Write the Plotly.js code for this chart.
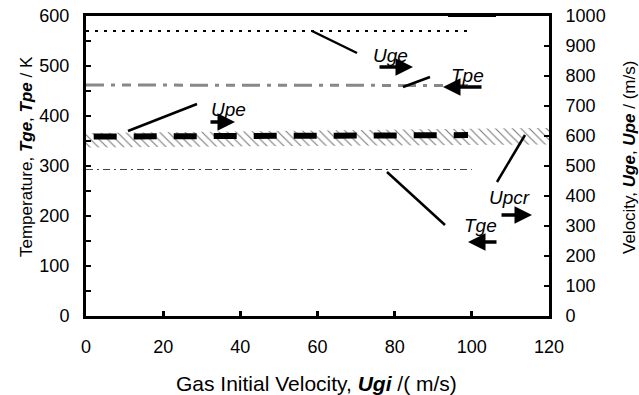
<!DOCTYPE html>
<html><head><meta charset="utf-8">
<script src="https://cdn.plot.ly/plotly-3.0.1.min.js"></script>
<style>body{margin:0;background:#fff}#c{width:639px;height:395px}</style>
</head><body><div id="c"></div>
<script>
// Data
const ugi     = [0, 20, 40, 60, 80, 100];
const ugiUpe  = [2, 20, 40, 60, 80, 99];
const Uge     = [950, 950, 950, 950, 950, 950];      // m/s (right axis)
const Tpe     = [462, 462, 462, 461, 461, 461];      // K (left axis)
const Upe     = [598, 599, 600, 601, 602, 603];      // m/s (right axis)
const Tge     = [293, 293, 293, 293, 293, 293];      // K (left axis)
const ugiCr   = [0, 120];
const UpcrLow = [562, 572];                          // m/s band
const UpcrHigh= [610, 627];
const xTicks  = [0, 20, 40, 60, 80, 100, 120];
const yTicksT = [0, 100, 200, 300, 400, 500, 600];
const yTicksU = [0, 100, 200, 300, 400, 500, 600, 700, 800, 900, 1000];

const W = 639, H = 395, M = {l: 86, r: 90, t: 16, b: 79};
const XR = [0, 120], YR = [0, 600];
const PW = W - M.l - M.r, PH = H - M.t - M.b;
function px2x(p){ return XR[0] + (p - M.l) / PW * (XR[1] - XR[0]); }
function py2y(p){ return YR[0] + (H - M.b - p) / PH * (YR[1] - YR[0]); }

const F = '"Liberation Sans", Arial, sans-serif';

const traces = [
  {x: ugiCr, y: UpcrLow, yaxis: 'y2', mode: 'lines', line: {width: 0, color: 'rgba(0,0,0,0)'}, hoverinfo: 'skip'},
  {x: ugiCr, y: UpcrHigh, yaxis: 'y2', mode: 'lines', line: {width: 0, color: 'rgba(0,0,0,0)'}, fill: 'tonexty',
   fillcolor: 'rgba(0,0,0,0)', fillpattern: {shape: '\\', fgcolor: '#777', bgcolor: 'rgba(0,0,0,0)', size: 6, solidity: 0.18}},
  {x: ugi, y: Uge, yaxis: 'y2', mode: 'lines', line: {color: '#000', width: 2, dash: '3px,6px'}},
  {x: ugi, y: Tpe, yaxis: 'y', mode: 'lines', line: {color: '#888', width: 3, dash: '18px,7px,4px,7px,9px,7px'}},
  {x: ugiUpe, y: Upe, yaxis: 'y2', mode: 'lines', line: {color: '#000', width: 6, dash: '23px,17px'}},
  {x: ugi, y: Tge, yaxis: 'y', mode: 'lines', line: {color: '#444', width: 1.2, dash: '7px,4px,2px,4px'}}
];

function seg(x0, y0, x1, y1, w){
  return {type: 'line', xref: 'x', yref: 'y', x0: px2x(x0), y0: py2y(y0), x1: px2x(x1), y1: py2y(y1),
          line: {color: '#000', width: w || 2.5}};
}
const shapes = [
  seg(312, 31, 357, 53),
  seg(403, 87, 430, 77),
  seg(128, 131, 197, 104),
  seg(497, 182, 525, 135),
  seg(387, 172, 445, 225),
  seg(448, 15, 496, 15, 4)
];

function lbl(t, px, py){
  return {x: px2x(px), y: py2y(py), xref: 'x', yref: 'y', text: '<i>' + t + '</i>', showarrow: false,
          font: {family: F, size: 19, color: '#000'}};
}
function arr(x0, y0, x1, y1){
  return {x: px2x(x1), y: py2y(y1), xref: 'x', yref: 'y', ax: x0 - x1, ay: y0 - y1, axref: 'pixel', ayref: 'pixel',
          text: '', showarrow: true, arrowhead: 2, arrowsize: 1, arrowwidth: 3.5, arrowcolor: '#000'};
}
function title(t, px, py, ang, size){
  return {x: (px - M.l) / PW, y: (H - M.b - py) / PH, xref: 'paper', yref: 'paper', xanchor: 'center', yanchor: 'middle',
          text: t, textangle: ang, showarrow: false, font: {family: F, size: size, color: '#000'}};
}
const annotations = [
  lbl('Uge', 390, 55), arr(378, 67, 413, 67),
  lbl('Tpe', 467, 75), arr(483, 87, 443, 87),
  lbl('Upe', 228, 109), arr(209, 122, 235, 122),
  lbl('Upcr', 509, 197), arr(500, 215, 532, 215),
  lbl('Tge', 480, 225), arr(498, 242, 468, 242),
  title('Gas Initial Velocity, <b><i>Ugi</i></b> /( m/s)', 316, 383, 0, 21),
  title('Temperature, <b><i>Tge</i></b>, <b><i>Tpe</i></b> / K', 26, 157, -90, 17),
  title('Velocity, <b><i>Uge</i></b>, <b><i>Upe</i></b> / (m/s)', 629, 158, -90, 17)
];

const axFont = {family: F, size: 18, color: '#000'};
const layout = {
  width: W, height: H, margin: M, showlegend: false,
  paper_bgcolor: '#fff', plot_bgcolor: '#fff',
  xaxis: {range: XR, tickvals: xTicks, ticktext: xTicks.map(String), showgrid: false, zeroline: false,
          showline: true, linewidth: 3, linecolor: '#000', mirror: true,
          ticks: 'inside', ticklen: 5, tickwidth: 3, tickcolor: '#000', ticklabelstandoff: 12,
          tickfont: axFont},
  yaxis: {range: YR, tickvals: yTicksT, ticktext: yTicksT.map(String), showgrid: false, zeroline: false,
          showline: true, linewidth: 3, linecolor: '#000',
          ticks: 'inside', ticklen: 5, tickwidth: 2, tickcolor: '#000', ticklabelstandoff: 10,
          minor: {dtick: 50, ticks: 'inside', ticklen: 5, tickwidth: 2, tickcolor: '#000'},
          tickfont: axFont},
  yaxis2: {range: [0, 1000], overlaying: 'y', side: 'right', tickvals: yTicksU, ticktext: yTicksU.map(String),
           showgrid: false, zeroline: false, showline: true, linewidth: 3, linecolor: '#000',
           ticks: 'inside', ticklen: 5, tickwidth: 2, tickcolor: '#000', ticklabelstandoff: 10,
           tickfont: axFont},
  shapes: shapes, annotations: annotations
};
Plotly.newPlot('c', traces, layout, {displayModeBar: false, staticPlot: true});
</script></body></html>
